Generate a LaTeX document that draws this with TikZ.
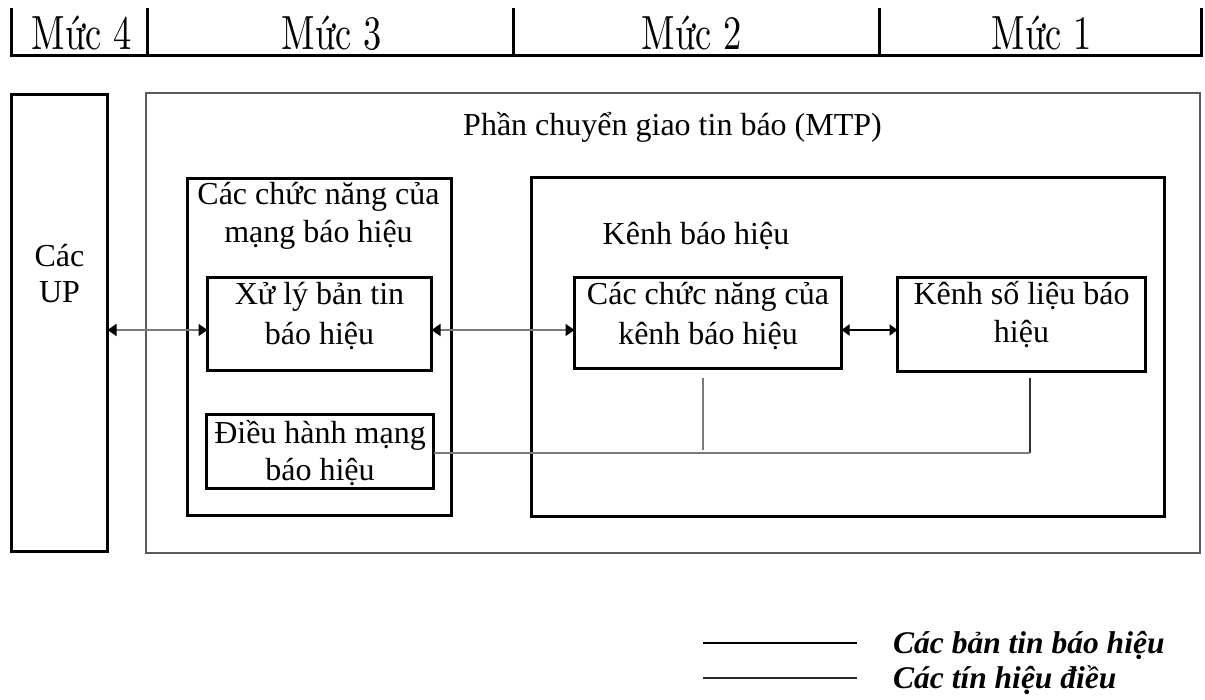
\documentclass[tikz,border=0pt]{standalone}
\usepackage{fontspec}
\usepackage{graphicx}
\setmainfont{Liberation Serif}
\newfontfamily\lmfont{lmroman10-regular.otf}
\usetikzlibrary{arrows.meta}
\definecolor{framegray}{HTML}{5A5A5A}
\definecolor{wiregray}{HTML}{7A7A7A}
% level headings: condensed Latin Modern
\newcommand{\lvltext}[1]{\scalebox{0.76}[1]{\lmfont\fontsize{48}{50}\selectfont #1}}

\begin{document}
\begin{tikzpicture}[x=1pt,y=-1pt,
  frame/.style={draw, line width=3.2pt, inner sep=0pt, outer sep=0pt},
  mtpframe/.style={draw=framegray, line width=2.5pt, inner sep=0pt, outer sep=0pt},
  lbl/.style={anchor=base, inner sep=0pt, font=\fontsize{32}{39}\selectfont},
  lgd/.style={anchor=base west, inner sep=0pt, font=\fontsize{31.5}{39}\selectfont\bfseries\itshape},
  lvl/.style={anchor=base, inner sep=0pt},
  rule/.style={line width=3pt},
  thinlink/.style={draw=wiregray, line width=1.5pt,
    {Triangle[length=9pt,width=12pt,color=black,fill=black]}-{Triangle[length=9pt,width=12pt,color=black,fill=black]}},
  boldlink/.style={draw=black, line width=2.5pt,
    {Triangle[length=8pt,width=11pt]}-{Triangle[length=8pt,width=11pt]}},
  ctl/.style={draw=wiregray, line width=1.6pt},
  ctldark/.style={draw=black!80, line width=1.2pt},
]
\useasboundingbox (0,0) rectangle (1205,700);

% ---- level header ----
\draw[rule] (11,8) -- (11,57.5);
\draw[rule] (147,8) -- (147,57.5);
\draw[rule] (513,8) -- (513,57.5);
\draw[rule] (879,8) -- (879,57.5);
\draw[rule] (1201,8) -- (1201,57.5);
\draw[rule] (9.5,56) -- (1202.5,56);
\node[lvl] (lv4) at (82,50) {\lvltext{Mức 4}};
\node[lvl] (lv3) at (332,50) {\lvltext{Mức 3}};
\node[lvl] (lv2) at (692,50) {\lvltext{Mức 2}};
\node[lvl] (lv1) at (1042,50) {\lvltext{Mức 1}};

% ---- user parts ----
\node[frame, minimum width=96pt, minimum height=457pt] (up) at (59.5,323) {};
\node[lbl] (up1) at (59.5,267) {Các};
\node[lbl] (up2) at (59.5,303) {UP};

% ---- message transfer part ----
\node[mtpframe, minimum width=1054pt, minimum height=460pt] (mtp) at (673,323) {};
\node[lbl] (mtpt) at (672.5,136) {Phần chuyển giao tin báo (MTP)};

% signalling network functions
\node[frame, minimum width=264pt, minimum height=337pt] (net) at (319.5,347) {};
\node[lbl] (net1) at (318.5,205) {Các chức năng của};
\node[lbl] (net2) at (318.5,243) {mạng báo hiệu};

\node[frame, minimum width=224pt, minimum height=93pt] (msg) at (319.5,324) {};
\node[lbl] (msg1) at (319.5,305) {Xử lý bản tin};
\node[lbl] (msg2) at (319.5,345) {báo hiệu};

\node[frame, minimum width=227pt, minimum height=74pt] (mgmt) at (320,451.5) {};
\node[lbl] (mgmt1) at (320,443) {Điều hành mạng};
\node[lbl] (mgmt2) at (320,480) {báo hiệu};

% signalling link
\node[frame, minimum width=633pt, minimum height=339pt] (link) at (848,347) {};
\node[lbl] (linkt) at (696,245) {Kênh báo hiệu};

\node[frame, minimum width=267pt, minimum height=91pt] (lfun) at (708,323) {};
\node[lbl] (lfun1) at (708,305) {Các chức năng của};
\node[lbl] (lfun2) at (708,345) {kênh báo hiệu};

\node[frame, minimum width=248pt, minimum height=94pt] (data) at (1021.5,324.5) {};
\node[lbl] (data1) at (1021.5,305) {Kênh số liệu báo};
\node[lbl] (data2) at (1021.5,343) {hiệu};

% ---- message flow ----
\coordinate (flow) at (0,330);
\draw[thinlink] (up.east |- flow) -- (msg.west |- flow);
\draw[thinlink] (msg.east |- flow) -- (lfun.west |- flow);
\draw[boldlink] (lfun.east |- flow) -- (data.west |- flow);

% ---- control signals ----
\coordinate (c1top) at (703,378);
\coordinate (c1bot) at (703,450);
\coordinate (c2top) at (1030,378);
\coordinate (c2bot) at (1030,453);
\draw[ctl] (c1top) -- (c1bot);
\draw[ctldark] (c2top) -- (c2bot);
\draw[ctl] (mgmt.east |- c2bot) -- (c2bot);

% ---- legend ----
\coordinate (k1a) at (703,643);
\coordinate (k1b) at (857,643);
\coordinate (k2a) at (703,678);
\coordinate (k2b) at (857,678);
\draw[line width=2pt] (k1a) -- (k1b);
\draw[line width=2.5pt, draw=black!85] (k2a) -- (k2b);
\node[lgd] (key1) at (893,653) {Các bản tin báo hiệu};
\node[lgd] (key2) at (893,688) {Các tín hiệu điều};
\end{tikzpicture}
\end{document}
